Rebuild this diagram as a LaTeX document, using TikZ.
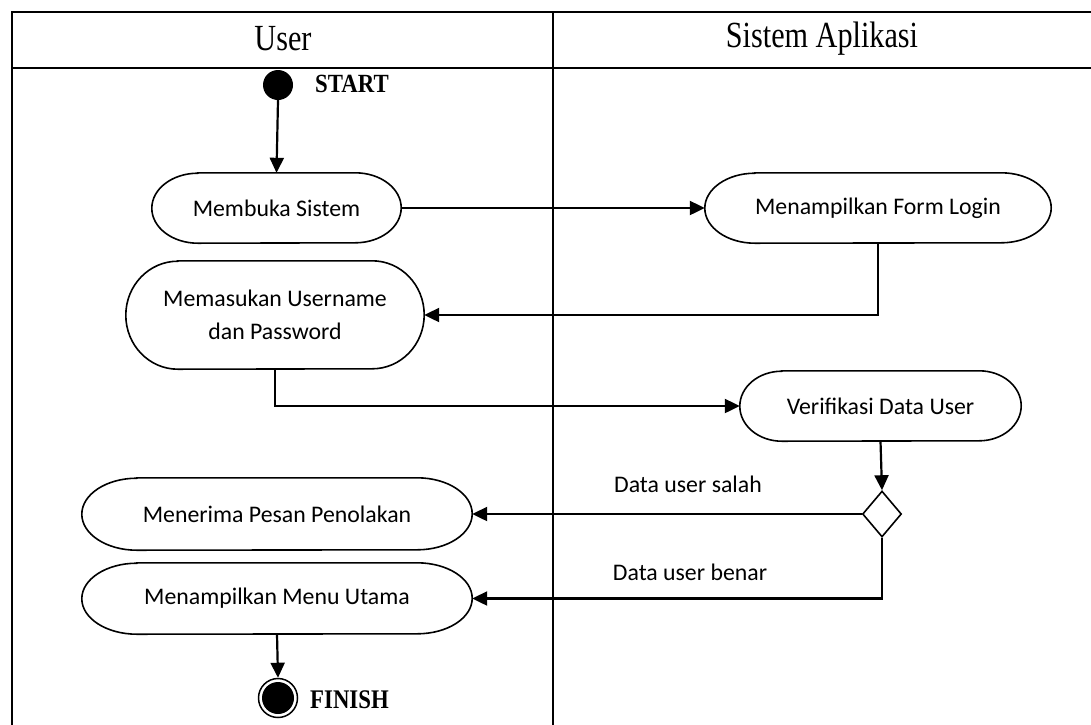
\documentclass[tikz,border=0pt]{standalone}
\usepackage{fontspec}
\setmainfont{Liberation Serif}
\newfontfamily\calfont{Carlito}
\usetikzlibrary{arrows.meta,shapes.geometric}
\newcommand\stadium[3]{%
  \draw[line width=1.6pt] ([xshift=#2]#1.north west) -- ([xshift=-#2]#1.north east)
    arc[start angle=90,end angle=-90,x radius=#2,y radius=#3]
    -- ([xshift=#2]#1.south west)
    arc[start angle=270,end angle=90,x radius=#2,y radius=#3] -- cycle;}
\begin{document}
\begin{tikzpicture}[x=1pt,y=-1pt,
  act/.style={inner sep=0pt,align=center,
    font=\calfont\fontsize{23.8}{33}\selectfont},
  conn/.style={line width=2.2pt,-{Triangle[length=15pt,width=14pt]}},
  lbl/.style={font=\calfont\fontsize{23.8}{28}\selectfont,inner sep=0pt},
  hdr/.style={font=\fontsize{30.2}{36}\selectfont,inner sep=0pt},
  tag/.style={font=\bfseries\fontsize{22.8}{26}\selectfont,inner sep=0pt,anchor=west},
  tbl/.style={line width=2.4pt}]
\useasboundingbox (0,0) rectangle (1091,724);
\begin{scope}
\clip (0,0) rectangle (1091,724);
\draw[tbl] (12,12) rectangle (1110,740);
\draw[tbl] (12,68) -- (1110,68);
\draw[tbl] (553,12) -- (553,740);
\end{scope}
\node[hdr] (h1) at (283,39) {\scalebox{1}[1.22]{User}};
\node[hdr] (h2) at (822,39) {\scalebox{1}[1.22]{Sistem Aplikasi}};

\node[circle,fill=black,minimum size=30pt,inner sep=0pt] (start) at (278,85) {};
\node[tag] (st) at (315,84) {\scalebox{1}[1.15]{START}};

\node[act,minimum width=249pt,minimum height=70pt] (buka) at (276.5,208) {Membuka Sistem};
\stadium{buka}{46pt}{35pt}
\node[act,minimum width=346pt,minimum height=70pt] (form) at (878,208) {Menampilkan Form Login};
\stadium{form}{50pt}{35pt}
\node[act,minimum width=298pt,minimum height=108pt] (masuk) at (275,315) {Memasukan Username\\dan Password};
\stadium{masuk}{52pt}{54pt}
\node[act,minimum width=281pt,minimum height=70pt] (verif) at (880.5,406) {Verifikasi Data User};
\stadium{verif}{42pt}{35pt}
\node[diamond,draw,line width=1.6pt,minimum width=39pt,minimum height=46pt,inner sep=0pt] (dec) at (882,514) {};
\node[act,minimum width=390pt,minimum height=72pt] (tolak) at (277,514) {Menerima Pesan Penolakan};
\stadium{tolak}{55pt}{36pt}
\node[act,minimum width=390pt,minimum height=71pt] (menu) at (277,598.5) {Menampilkan Menu Utama};
\stadium{menu}{55pt}{35.5pt}

\node[circle,draw,line width=1.5pt,minimum size=39pt,inner sep=0pt] (fin) at (278,698) {};
\node[circle,fill=black,minimum size=32pt,inner sep=0pt] (finin) at (fin.center) {};
\node[tag] (ft) at (310,700) {\scalebox{1}[1.18]{FINISH}};

\node[lbl] (l1) at (688,484) {Data user salah};
\node[lbl] (l2) at (690,572) {Data user benar};

\draw[conn] (start.south) -- (buka.north);
\draw[conn] (buka.east) -- (form.west);
\draw[conn] (form.south) |- (masuk.east);
\draw[conn] (masuk.south) |- (verif.west);
\draw[conn] (verif.south) -- (dec.north);
\draw[conn] (dec.west) -- (tolak.east);
\draw[conn] (dec.south) |- (menu.east);
\draw[conn] (menu.south) -- (fin.north);
\end{tikzpicture}
\end{document}
